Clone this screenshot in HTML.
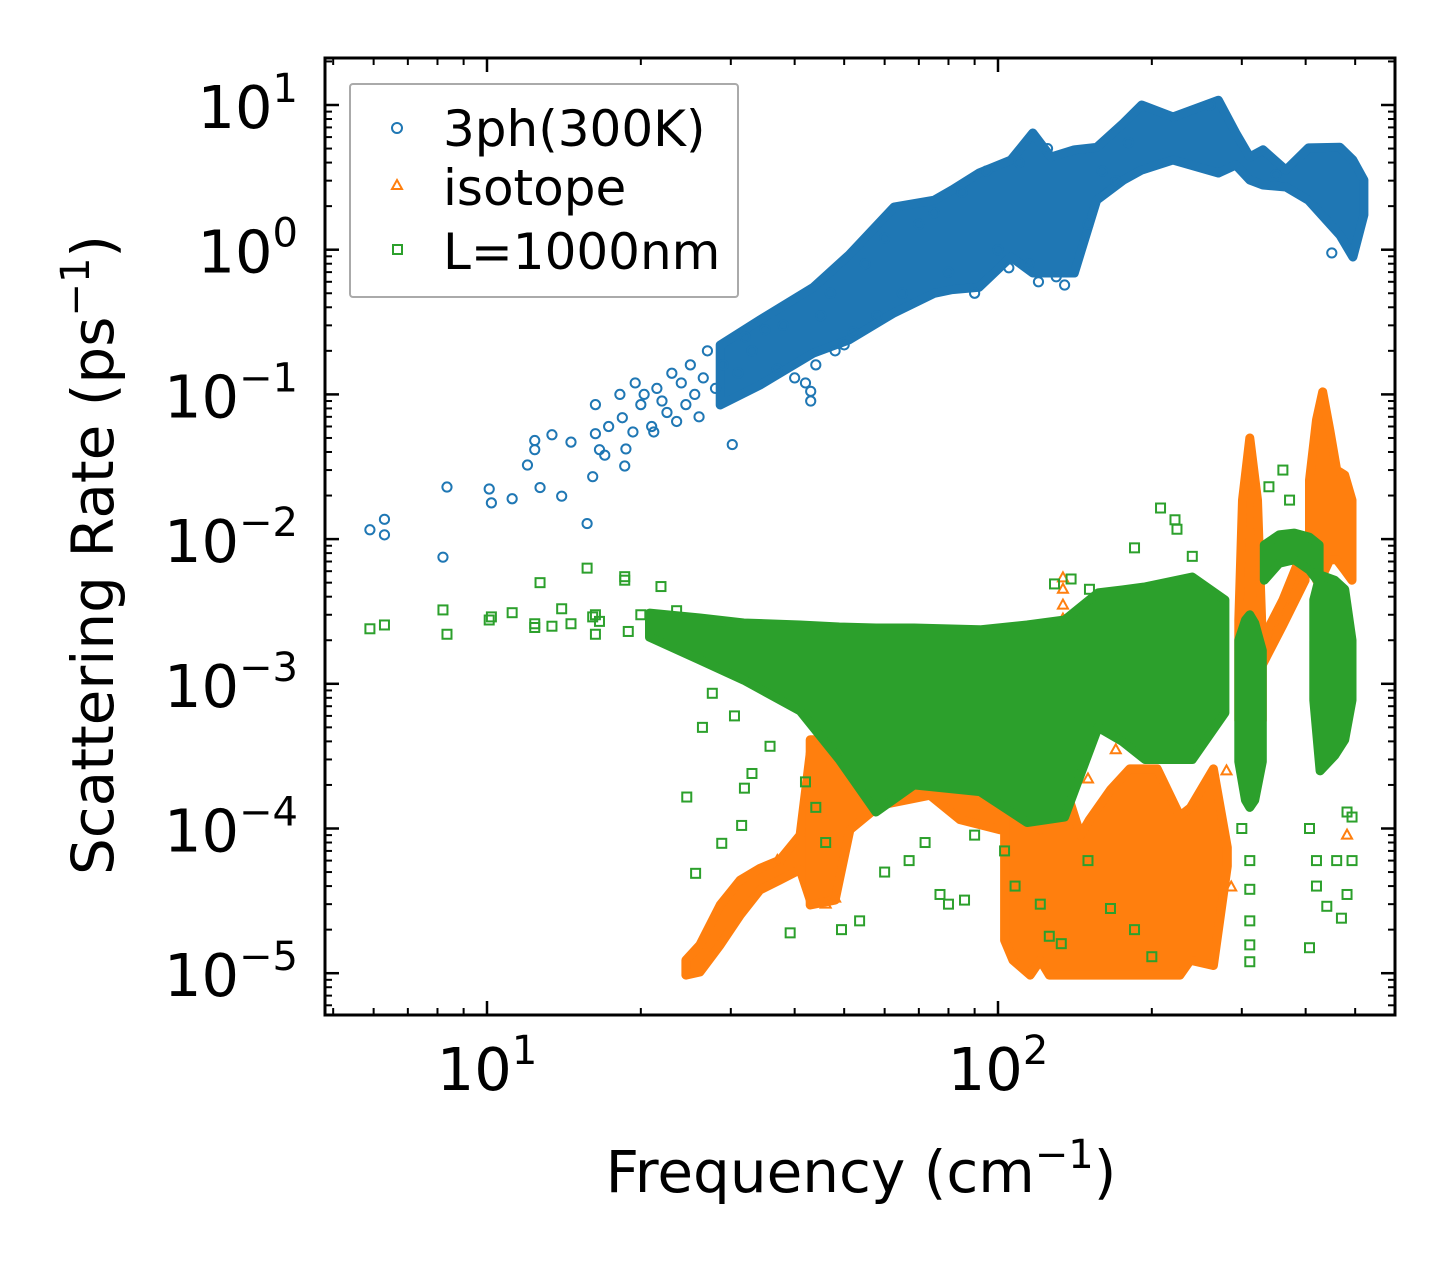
<!DOCTYPE html>
<html><head><meta charset="utf-8"><style>
html,body{margin:0;padding:0;background:#fff}
svg{display:block}
text{font-family:"DejaVu Sans","Liberation Sans",sans-serif;fill:#000}
</style></head><body>
<svg id="chart" xmlns="http://www.w3.org/2000/svg" width="1455" height="1265" viewBox="0 0 1455 1265">
<rect width="1455" height="1265" fill="#fff"/>
<g id="plot"></g>
<g id="axes"></g>
<text x="861" y="1192" font-size="58" text-anchor="middle">Frequency (cm<tspan dy="-24" font-size="40">−1</tspan><tspan dy="24">)</tspan></text>
<text transform="translate(113,555) rotate(-90)" font-size="58" text-anchor="middle">Scattering Rate (ps<tspan dy="-24" font-size="40">−1</tspan><tspan dy="24">)</tspan></text>
<g>
<rect x="350" y="84" width="388" height="213" fill="#fff" fill-opacity="0.85" stroke="#aaa" stroke-width="2" rx="3"/>
<circle cx="397" cy="128" r="5" fill="none" stroke="#1f77b4" stroke-width="2"/>
<text x="443" y="146" font-size="50">3ph(300K)</text>
<polygon points="397,180 402,189 392,189" fill="none" stroke="#ff7f0e" stroke-width="2"/>
<text x="443" y="205" font-size="50">isotope</text>
<rect x="393" y="245" width="9" height="9" fill="none" stroke="#2ca02c" stroke-width="2"/>
<text x="443" y="269" font-size="50">L=1000nm</text>
</g>
</svg>
<script>
// ---- data ----
const phBandF=[28.6,34.2,43.5,51.1,62.6,75,81.3,91.8,106,117,127,141,156,176,191,220,270,292,311,330,366,405,467,495,520];
const phBandHi=[0.219,0.327,0.55,0.92,1.97,2.2,2.59,3.39,4.17,6.4,4.37,4.9,5.1,7.5,10,8.26,10.8,6.4,4.37,4.9,3.55,5.05,5.1,4.17,3.03];
const phBandLo=[0.0845,0.116,0.193,0.238,0.366,0.5,0.53,0.55,0.89,0.69,0.69,0.69,2.2,3.03,3.55,4.17,3.39,3.85,3.03,2.8,2.71,2.2,1.26,0.89,1.74];
const phPtF=[5.9,6.3,6.3,8.2,8.35,10.1,10.2,11.2,12.0,12.4,12.4,12.7,13.4,14.0,14.6,15.7,16.1,16.3,16.3,16.6,17.0,17.3,18.2,18.4,18.6,18.7,19.3,19.5,20.0,20.3,21,21.2,21.5,22,22.5,23,23.5,24,24.5,25,25.5,26,26.5,27,28,29,30.2,31,32,33,35,37,38,40,42,43,43,44,45,47,48,50,52,55,58,60,65,70,75,80,85,90,95,100,105,110,115,120,125,130,135,150,160,170,180,260,350,450];
const phPtR=[0.0116,0.0137,0.0107,0.0075,0.0229,0.0222,0.0178,0.019,0.0325,0.048,0.0415,0.0227,0.0526,0.0198,0.0468,0.0128,0.027,0.0535,0.085,0.0415,0.038,0.06,0.1,0.069,0.032,0.042,0.055,0.12,0.085,0.1,0.06,0.055,0.11,0.09,0.075,0.14,0.065,0.12,0.085,0.16,0.1,0.07,0.13,0.2,0.11,0.16,0.045,0.14,0.25,0.2,0.28,0.15,0.3,0.13,0.12,0.09,0.105,0.16,0.35,0.5,0.2,0.22,0.27,0.8,0.35,1.2,0.5,1.5,1.8,0.7,2.5,0.5,3.5,1.0,0.75,4,0.8,0.6,5,0.65,0.57,1.5,3.5,3.0,5.5,10,3.3,0.95];

const isoRampF=[24.5,26.1,28.6,31.3,34.2,37.4,41.0,42.9];
const isoRampHi=[1.23e-5,1.57e-5,2.96e-5,4.4e-5,5.3e-5,6.05e-5,9e-5,3.3e-4];
const isoRampLo=[9.7e-6,1.02e-5,1.57e-5,2.52e-5,3.76e-5,4.4e-5,5.2e-5,3.2e-5];
const isoMidF=[42.9,48,51.3,58.7,65.8,73.6,84.3,100.9];
const isoMidHi=[4.1e-4,4.1e-4,2.97e-4,4.1e-4,4.4e-4,4.4e-4,4.1e-4,2.97e-4];
const isoMidLo=[2.96e-5,3.2e-5,9.8e-5,1.45e-4,1.57e-4,1.7e-4,1.15e-4,9.8e-5];
const isoBlobF=[103,107,115.6,121,126,134,145,151,166,181,205,227,238,264,281];
const isoBlobHi=[1.57e-4,1.39e-4,2.97e-4,9.8e-5,1.57e-4,2.16e-4,9e-5,1.15e-4,1.85e-4,2.58e-4,2.58e-4,1.22e-4,1.39e-4,2.58e-4,7.4e-5];
const isoBlobLo=[1.69e-5,1.23e-5,9.7e-6,1.23e-5,9.7e-6,9.7e-6,9.7e-6,9.7e-6,9.7e-6,9.7e-6,9.7e-6,9.7e-6,1.23e-5,1.13e-5,5.5e-5];
const isoS1F=[296,301,311,322,329];
const isoS1Hi=[2.76e-3,0.0186,0.05,0.0186,2.0e-3];
const isoS1Lo=[5.6e-4,4.1e-4,3.8e-4,4.1e-4,5.6e-4];
const isoArcF=[329,361,399];
const isoArcHi=[2.0e-3,3.8e-3,9.1e-3];
const isoArcLo=[1.35e-3,2.55e-3,5.2e-3];
const isoS2F=[407,420,432,446,460,477,493];
const isoS2Hi=[0.0256,0.0665,0.104,0.0567,0.030,0.0277,0.0186];
const isoS2Lo=[7.2e-3,5.2e-3,5.65e-3,7.2e-3,7.2e-3,6.1e-3,5.2e-3];
const isoPtF=[482,286,134,134,134,134,46,37,48,150,110,170,200,280];
const isoPtR=[9e-5,3.94e-5,5.4e-3,4.5e-3,3.5e-3,2.8e-3,3e-5,6e-5,3.3e-5,2.2e-4,3e-4,3.5e-4,3e-4,2.5e-4];

const bdBandF=[20.8,26.1,31.8,41.0,48.9,57.7,68.5,92.2,114,135,157,175,194,240,278];
const bdBandHi=[3.08e-3,2.85e-3,2.63e-3,2.55e-3,2.47e-3,2.43e-3,2.43e-3,2.36e-3,2.55e-3,2.76e-3,4.25e-3,4.45e-3,4.67e-3,5.47e-3,3.8e-3];
const bdBandLo=[2.1e-3,1.46e-3,1.06e-3,6.5e-4,3.0e-4,1.3e-4,2.0e-4,1.8e-4,1.1e-4,1.2e-4,5.0e-4,4.0e-4,3.0e-4,3.0e-4,6.3e-4];
const bdS1F=[296,305,311,318,329];
const bdS1Hi=[2.0e-3,2.76e-3,3.0e-3,2.63e-3,1.7e-3];
const bdS1Lo=[2.9e-4,1.57e-4,1.4e-4,1.57e-4,2.9e-4];
const bdArcF=[332,355,380,407,425];
const bdArcHi=[0.0091,0.0107,0.011,0.0103,0.0091];
const bdArcLo=[5.2e-3,6.8e-3,7.2e-3,6.1e-3,5.0e-3];
const bdS2F=[415,427,456,477,493];
const bdS2Hi=[3.8e-3,5.65e-3,5.2e-3,4.5e-3,2.0e-3];
const bdS2Lo=[7.7e-4,2.5e-4,3.2e-4,4.1e-4,7.7e-4];
const bdPtF=[5.9,6.3,8.2,8.35,10.1,10.2,11.2,12.4,12.4,12.7,13.4,14.0,14.6,15.7,16.1,16.3,16.3,16.6,18.6,18.6,18.9,20,21.9,23.5,24.6,25.6,26.4,27.6,28.8,30.5,31.5,31.9,33,35.8,39.2,42,44,46,49.4,53.6,60,67,72,77,80,86,90,103,108,121,126,133,150,166,185,200,185,208,222,224,240,129,139,151,339,361,372,311,311,311,311,311,300,407,420,407,420,440,460,482,470,493,493,482];
const bdPtR=[2.4e-3,2.55e-3,3.24e-3,2.2e-3,2.76e-3,2.9e-3,3.1e-3,2.45e-3,2.6e-3,5e-3,2.5e-3,3.3e-3,2.6e-3,6.3e-3,2.9e-3,3.0e-3,2.2e-3,2.7e-3,5.2e-3,5.5e-3,2.3e-3,3.0e-3,4.7e-3,3.2e-3,1.65e-4,4.9e-5,5.0e-4,8.6e-4,7.9e-5,6e-4,1.05e-4,1.9e-4,2.4e-4,3.7e-4,1.9e-5,2.1e-4,1.4e-4,8e-5,2e-5,2.3e-5,5e-5,6e-5,8e-5,3.5e-5,3e-5,3.2e-5,9e-5,7e-5,4e-5,3e-5,1.8e-5,1.6e-5,6e-5,2.8e-5,2e-5,1.3e-5,8.7e-3,0.0164,0.0136,0.0117,0.0076,4.9e-3,5.3e-3,4.5e-3,0.023,0.030,0.0186,6e-5,2.3e-5,1.57e-5,1.2e-5,3.8e-5,1e-4,1e-4,6e-5,1.5e-5,4e-5,2.9e-5,6e-5,1.3e-4,2.4e-5,6e-5,1.2e-4,3.5e-5];

// ---- axes ----
const L=325,R=1395,T=58,B=1015;
const X=f=>487+(Math.log10(f)-1)*511;
const Y=r=>105+(1-Math.log10(r))*144.7;
const NS="http://www.w3.org/2000/svg";
const plot=document.getElementById('plot'), axes=document.getElementById('axes');
function mk(tag,attrs,parent){const e=document.createElementNS(NS,tag);for(const k in attrs)e.setAttribute(k,attrs[k]);parent.appendChild(e);return e;}
const clip=mk('clipPath',{id:'cp'},plot);mk('rect',{x:L,y:T,width:R-L,height:B-T},clip);
plot.setAttribute('clip-path','url(#cp)');

function band(F,Hi,Lo,color,name){
  let pts=F.map((f,i)=>X(f).toFixed(1)+','+Y(Hi[i]).toFixed(1));
  for(let i=F.length-1;i>=0;i--)pts.push(X(F[i]).toFixed(1)+','+Y(Lo[i]).toFixed(1));
  const p=mk('polygon',{points:pts.join(' '),fill:color,stroke:color,'stroke-width':9,'stroke-linejoin':'round'},plot);
  
  
}
function pts(F,Rv,shape,color,name){
  F.forEach((f,i)=>{
    const x=X(f),y=Y(Rv[i]);let e;
    if(shape==='c')e=mk('circle',{cx:x,cy:y,r:4.6,fill:'none',stroke:color,'stroke-width':2},plot);
    else if(shape==='t')e=mk('polygon',{points:`${x},${y-5.5} ${x+5},${y+3.5} ${x-5},${y+3.5}`,fill:'none',stroke:color,'stroke-width':2},plot);
    else e=mk('rect',{x:x-4.5,y:y-4.5,width:9,height:9,fill:'none',stroke:color,'stroke-width':2},plot);
    
    
  });
}
const C1='#1f77b4',C2='#ff7f0e',C3='#2ca02c';
band(phBandF,phBandHi,phBandLo,C1,'3ph-dense-cloud');
pts(phPtF,phPtR,'c',C1,'3ph-point');
band(isoRampF,isoRampHi,isoRampLo,C2,'isotope-ramp');
band(isoMidF,isoMidHi,isoMidLo,C2,'isotope-mid-cloud');
band(isoBlobF,isoBlobHi,isoBlobLo,C2,'isotope-blob');
band(isoS1F,isoS1Hi,isoS1Lo,C2,'isotope-spike-300');
band(isoArcF,isoArcHi,isoArcLo,C2,'isotope-arc');
band(isoS2F,isoS2Hi,isoS2Lo,C2,'isotope-spike-430');
pts(isoPtF,isoPtR,'t',C2,'isotope-point');
band(bdBandF,bdBandHi,bdBandLo,C3,'boundary-dense-cloud');
band(bdS1F,bdS1Hi,bdS1Lo,C3,'boundary-spike-300');
band(bdArcF,bdArcHi,bdArcLo,C3,'boundary-arc');
band(bdS2F,bdS2Hi,bdS2Lo,C3,'boundary-spike-450');
pts(bdPtF,bdPtR,'s',C3,'boundary-point');

// frame and ticks
const fr=mk('rect',{x:L,y:T,width:R-L,height:B-T,fill:'none',stroke:'#000','stroke-width':3},axes);


function tick(x1,y1,x2,y2,w){mk('line',{x1,y1,x2,y2,stroke:'#000','stroke-width':w},axes);}
for(let d=0;d<=2;d++)for(let m=1;m<=9;m++){
  const f=m*Math.pow(10,d),x=X(f); if(x<L+1||x>R-1)continue;
  const len=m===1?14:7,w=m===1?2.5:2;
  tick(x,B,x,B-len,w);tick(x,T,x,T+len,w);
}
for(let d=-6;d<=1;d++)for(let m=1;m<=9;m++){
  const r=m*Math.pow(10,d),y=Y(r); if(y<T+1||y>B-1)continue;
  const len=m===1?14:7,w=m===1?2.5:2;
  tick(L,y,L+len,y,w);tick(R,y,R-len,y,w);
}
const xTickExp=[1,2];
xTickExp.forEach(e=>{
  const t=mk('text',{x:X(Math.pow(10,e)),y:1090,'font-size':59,'text-anchor':'middle'},axes);
  t.innerHTML=`10<tspan dy="-26" font-size="40">${e}</tspan>`;
  
  
});
const yTickExp=[1,0,-1,-2,-3,-4,-5];
yTickExp.forEach(e=>{
  const lab=e<0?'−'+(-e):''+e;
  const t=mk('text',{x:298,y:Y(Math.pow(10,e))+23,'font-size':59,'text-anchor':'end'},axes);
  t.innerHTML=`10<tspan dy="-26" font-size="40">${lab}</tspan>`;
  
  
});
</script>
</body></html>
